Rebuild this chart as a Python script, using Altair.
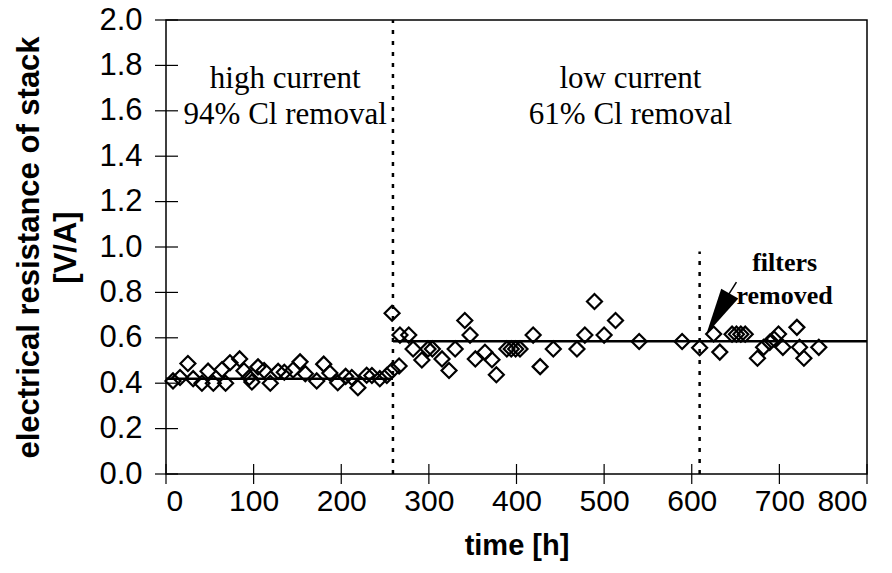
import altair as alt
import pandas as pd

# measured data (time [h], resistance [V/A])
t_vals = [8, 16, 25, 31, 41, 48, 54, 64, 68, 73, 84, 89, 95, 98, 105, 112, 119, 128,
          135, 145, 153, 159, 172, 180, 187, 196, 205, 212, 219, 229, 235, 244, 252,
          258, 266,
          258, 267, 277, 282, 292, 299, 304, 315, 323, 330, 341, 347, 353, 364, 372,
          377, 389, 394, 399, 404, 419, 427, 442, 469, 478, 489, 500, 513, 540, 589,
          609, 625, 632, 646, 651, 656, 661, 675, 682, 689, 694, 699, 704, 720, 723,
          728, 745]
r_vals = [0.41, 0.425, 0.487, 0.42, 0.40, 0.453, 0.40, 0.46, 0.40, 0.49, 0.507, 0.455,
          0.425, 0.405, 0.472, 0.456, 0.40, 0.452, 0.448, 0.458, 0.494, 0.442, 0.41,
          0.484, 0.445, 0.402, 0.43, 0.425, 0.38, 0.435, 0.434, 0.42, 0.434,
          0.456, 0.476,
          0.708, 0.612, 0.612, 0.551, 0.502, 0.551, 0.551, 0.507, 0.456, 0.551, 0.676,
          0.612, 0.507, 0.536, 0.503, 0.437, 0.551, 0.551, 0.551, 0.551, 0.612, 0.473,
          0.551, 0.551, 0.612, 0.76, 0.612, 0.676, 0.584, 0.584, 0.556, 0.617, 0.537,
          0.616, 0.616, 0.616, 0.616, 0.51, 0.558, 0.58, 0.595, 0.617, 0.558, 0.646,
          0.558, 0.51, 0.558]

# mean resistance levels per period
seg_start = [0, 259]
seg_end = [259, 800]
seg_level = [0.42, 0.585]

# period boundaries (dotted lines)
div_t = [259, 609]
div_top = [2.0, 0.98]

# annotation texts
note_text = ["high current", "94% Cl removal", "low current", "61% Cl removal"]
note_t = [136, 136, 530, 530]
note_r = [1.74, 1.58, 1.74, 1.58]

filt_text = ["filters", "removed"]
filt_t = [706, 706]
filt_r = [0.93, 0.785]

arrow_t = [651, 642]
arrow_r = [0.845, 0.79]
head_t = [630]
head_r = [0.705]

y_ticks = [round(0.2 * i, 1) for i in range(11)]
x_ticks = [100 * i for i in range(9)]

pts = pd.DataFrame({"t": t_vals, "r": r_vals})
segs = pd.DataFrame({"t1": seg_start, "t2": seg_end, "r": seg_level})
divs = pd.DataFrame({"t": div_t, "top": div_top, "bot": [0, 0]})
notes = pd.DataFrame({"t": note_t, "r": note_r, "txt": note_text})
filt = pd.DataFrame({"t": filt_t, "r": filt_r, "txt": filt_text})
arr = pd.DataFrame({"t": arrow_t, "r": arrow_r})
head = pd.DataFrame({"t": head_t, "r": head_r})
yt = pd.DataFrame({"v": y_ticks})
xt = pd.DataFrame({"v": x_ticks})

xs = alt.Scale(domain=[0, 800], nice=False)
ys = alt.Scale(domain=[0, 2], nice=False)

x_axis = alt.Axis(values=x_ticks, ticks=False, grid=False, domain=False,
                  labelFont="Liberation Sans", labelFontSize=30, labelColor="black",
                  labelPadding=12, title="time [h]", titleFont="Liberation Sans",
                  titleFontSize=29, titleFontWeight="bold", titleColor="black",
                  titlePadding=15)
y_axis = alt.Axis(values=y_ticks, format=".1f", ticks=False, grid=False, domain=False,
                  labelFont="Liberation Sans", labelFontSize=31, labelColor="black",
                  labelPadding=24,
                  title=["electrical resistance of stack", "[V/A]"],
                  titleFont="Liberation Sans", titleFontSize=31, titleFontWeight="bold",
                  titleColor="black", titlePadding=16, titleLineHeight=37)

points = alt.Chart(pts).mark_point(shape="diamond", filled=False, color="black",
                                   strokeWidth=2.2, size=225, opacity=1).encode(
    x=alt.X("t:Q", scale=xs, axis=x_axis),
    y=alt.Y("r:Q", scale=ys, axis=y_axis),
)

lines = alt.Chart(segs).mark_rule(color="black", strokeWidth=2.5).encode(
    x=alt.X("t1:Q", scale=xs), x2="t2:Q", y=alt.Y("r:Q", scale=ys))

dividers = alt.Chart(divs).mark_rule(color="black", strokeWidth=2.5,
                                     strokeDash=[4, 7]).encode(
    x=alt.X("t:Q", scale=xs), y=alt.Y("bot:Q", scale=ys), y2="top:Q")

note_marks = alt.Chart(notes).mark_text(font="Liberation Serif", fontSize=31,
                                        color="black").encode(
    x=alt.X("t:Q", scale=xs), y=alt.Y("r:Q", scale=ys), text="txt:N")

filt_marks = alt.Chart(filt).mark_text(font="Liberation Serif", fontSize=26,
                                       fontWeight="bold", color="black").encode(
    x=alt.X("t:Q", scale=xs), y=alt.Y("r:Q", scale=ys), text="txt:N")

arrow_line = alt.Chart(arr).mark_line(color="black", strokeWidth=1.5).encode(
    x=alt.X("t:Q", scale=xs), y=alt.Y("r:Q", scale=ys))

arrow_head = alt.Chart(head).mark_point(shape="M-0.42,-1L0.42,-1L0,1Z", filled=True,
                                        color="black", size=2200, angle=30,
                                        opacity=1).encode(
    x=alt.X("t:Q", scale=xs), y=alt.Y("r:Q", scale=ys))

y_tick_marks = alt.Chart(yt).mark_rule(color="black", strokeWidth=1.2).encode(
    y=alt.Y("v:Q", scale=ys), x=alt.value(-11), x2=alt.value(12))

x_tick_marks = alt.Chart(xt).mark_rule(color="black", strokeWidth=1.2).encode(
    x=alt.X("v:Q", scale=xs), y=alt.value(444), y2=alt.value(464))

chart = alt.layer(
    y_tick_marks, x_tick_marks, lines, dividers, points, note_marks, filt_marks,
    arrow_line, arrow_head,
).properties(
    width=701, height=454,
    padding={"left": 166, "top": 20, "right": 25, "bottom": 99},
    autosize=alt.AutoSizeParams(type="none"),
    background="white",
).configure_view(stroke="black", strokeWidth=1.5)

chart.save("out.html", embed_options={"renderer": "svg", "actions": False})
